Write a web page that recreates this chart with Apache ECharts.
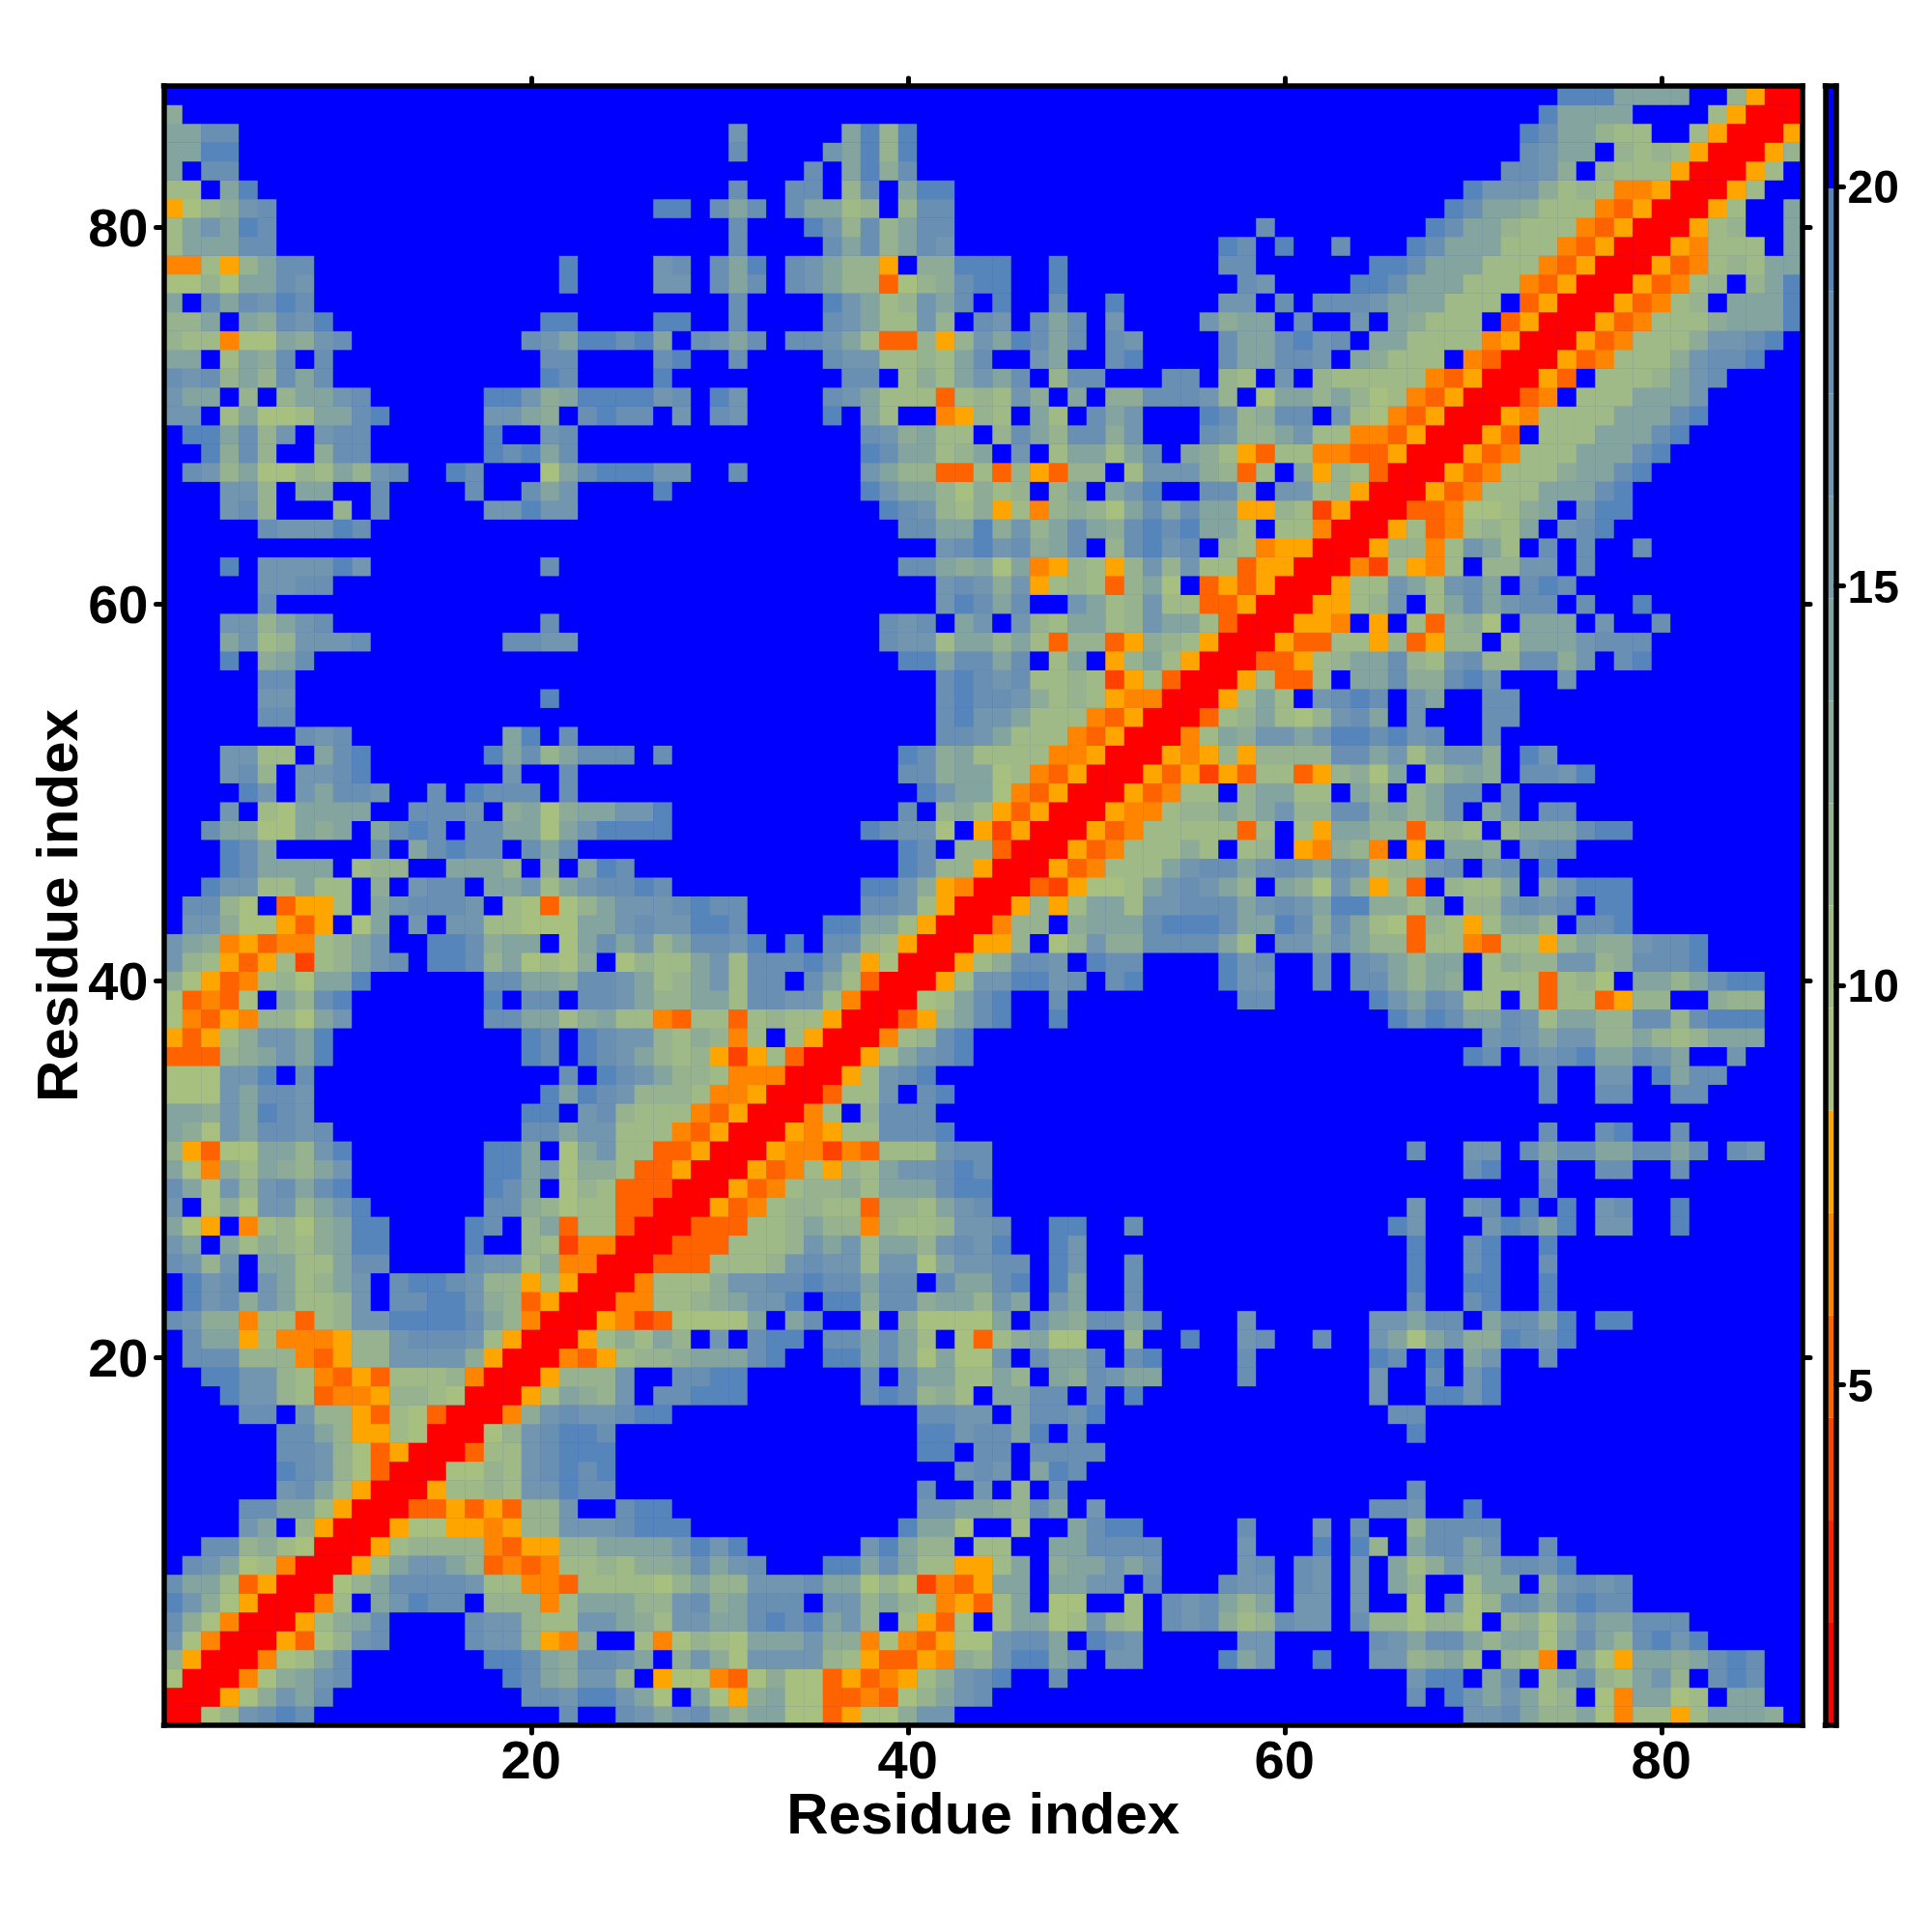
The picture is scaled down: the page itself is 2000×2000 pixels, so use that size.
<!DOCTYPE html>
<html><head><meta charset="utf-8">
<style>html,body{margin:0;padding:0;background:#fff}#c{width:2000px;height:2000px}</style>
<script src="https://cdn.jsdelivr.net/npm/echarts@6/dist/echarts.min.js"></script>
</head><body><div id="c"></div>
<script>
// Contact-distance map. Matrix is symmetric: row j lists columns j..87.
const residues = Array.from({length:87},(_,k)=>String(k+1));
const rows = [
"0*2 6 8 b c d c f*13 c f*2 c b a b c a 8 a a 6 6 3 5 6 6 9 b b f*27 b b c a 8 8 a 6 4 7 7 5 7 a a a 9 f",
"0 0 5 6 9 b a c f*10 c c b d d b a 6 f a 6 5 9 a 6 6 3 3 4 3 6 8 a b c f*22 c f d b a b a 7 8 f 6 4 a a 6 7 f a a f f",
"0 0 4 6 9 a b c f*8 d c a 9 b b 8 f 5 6 6 4 3 6 9 6 6 3 5 3 4 5 7 9 b c d f f c f*18 b d d f a c f 7 a c 8 7 a b 8 f c d c f f",
"0 0 4 6 7 a c f*7 d d c a 9 c c b a f 9 b 9 6 b b b b 8 7 5 3 3 5 4 9 8 b d d a b f b b f*4 d a b f f d f f b b 8 9 a 7 f 8 7 4 f a 6 5 a a 9 a c d c f f",
"0 0 5 3 6 8 b c f*4 c b b 8 5 4 9 f f 7 4 6 8 7 6 a a a b 9 9 4 6 4 3 5 6 6 b c c a f d c b f*5 b b f*5 c b a c c a 8 a a 6 a c a 8 c d b d f*5",
"0 0 5 7 9 a c f*4 c b b 8 7 7 b b a 9 7 b b a a c d c d a b 8 f 7 5 3 6 f 7 a a 6 7 b 8 7 f c b c 9 7 8 c b b f c 8 8 6 8 8 6 f 8 9 6 9 b a a c c c f*6",
"0 0 4 7 f a b d c c f 8 8 8 4 7 a a a 8 8 b c 9 a c c c f b b 8 a 8 7 4 5 3 7 a f 6 6 f f 7 f c b c a 8 a f b b f b f f 6 f b 6 8 c c a c d c c f*9",
"0 0 6 8 a c c c c b 7 7 4 4 3 7 7 7 7 6 8 a 8 8 b b b c a a 6 8 6 2 4 3 5 a a f a a b b f c f f f c b b f c b f b f a 8 f f 7 a a f 9 b c b c f*9",
"0 0 5 7 a b b a 8 3 4 3 4 7 7 8 7 9 9 a c a b c f f f d d a c a 7 7 5 5 7 a f 9 a a b a b f*4 b c f c b f b f a 7 9 b a a c c b d f*12",
"0 0 5 7 8 8 8 8 4 3 5 5 8 8 a a a a b d b d f*6 b d a 8 8 f 7 7 f f a a c c c c f*4 b f*3 d f d 8 f a c c a b f f c f*13",
"0 0 5 6 6 5 5 4 5 8 8 b b b c d d d f*11 d a a 6 f f 7 f f a c d d f*5 c f*3 b f c f f 8 c c c c f*16",
"0 0 3 3 5 3 5 3 8 8 b f f c d d f*13 b b a a 9 8 c a f b f*14 c c b f f d f*17",
"0 0 5 7 7 8 7 b b d c c f*16 c f f b f 8 f c f*18 c f*20",
"0 0 6 6 8 7 b c d c d f*18 b c b f a d c f*38",
"0 0 3 7 7 b c d d d f*16 d d f c c f c c c c f*37",
"0 0 6 8 b c d d c f*16 d d b c c a d f c f*17 d f*20",
"0 0 4 9 b c b b c d d f*13 c c b b f a c c b d f*15 c c f*20",
"0 0 5 7 a 9 8 b f c c d d d f*6 c d c 8 9 7 f a a c c f c f d f*12 b f f d d b d f*16",
"0 0 5 8 8 8 b f f c c d d f*6 c f c a a 7 7 a 8 f a 9 c b a a f*4 c f*6 b f f c f b d f*16",
"0 0 4 3 5 7 8 8 9 a a a c d f f d d a c a 6 a 6 6 b f c a a c f c d f*4 c f*6 d c f d f a b f f c f*13",
"0 0 5 7 9 7 a 8 f b f c d d f c c a c a 7 f 6 3 7 9 a 6 6 f f 8 f f d f f b c f f c f f b a 6 a b 9 9 d c b d f*12",
"0 0 5 4 2 3 6 6 6 6 a f a c f f 7 f 9 6 6 6 6 a f c a 9 c c a c f*4 b f*6 b b a c c f a c c a d f d d f*9",
"0 0 4 4 7 7 8 9 a b b d f d d 9 c c 9 a a 8 b a f b a f f c f*14 c f f c d f f d f*13",
"0 0 4 7 7 7 9 b b c c d c c a c c f c a a c d f d a f f c f*14 d f f d d f f d f*13",
"0 0 3 3 3 7 7 7 8 b c b b 7 b b 6 a b b c c f d b f f c f*14 d f f c d f f c f*13",
"0 0 3 3 3 7 7 7 8 b a b 7 a a 8 b c b d f f d b f*17 d f f c d f f d f*13",
"0 0 3 3 3 7 7 8 a 8 8 4 8 7 7 8 b b c f f d d f f c f*13 d b f*3 b d c a d f b b f f d f*6",
"0 0 5 3 4 7 8 8 7 7 3 8 8 7 a b c f*22 b f f b c f d f d f b c f f d f*6",
"0 0 5 3 4 7 8 8 9 7 a a a c d d f*29 c f*13",
"0 0 5 3 4 7 5 8 7 a b b c d c f*25 c d f f b f f c c f f c f*6",
"0 0 5 4 4 2 4 3 7 7 7 b c c f*22 c f f b b f c a c c a a c c a c f c b f f",
"0 0 5 4 5 7 7 c c c d f*31 c f f c d f f c f*6",
"0 0 4 7 f 8 c c c f*46",
"0 0 3 7 7 b f c d f*31 c f f c c f f c c f*5",
"0 0 5 7 b c d f*32 c f f b b f d a c c f*4",
"0 0 5 7 a b c d f*26 d c f c b c d a a c b a f f b f f f",
"0 0 4 7 8 c d f*27 b c b a b b 8 8 a 8 7 8 a a a f f",
"0 0 3 5 8 a c d f f d f*17 d b d c a a c b 7 a a 8 8 c c 8 c d d d f f",
"0 0 6 7 a c d f f c f*9 c c f*5 d b a c b 7 7 f 7 3 7 7 3 5 8 8 f f 9 8 8 f f",
"0 0 5 7 b b d d b c f c d f*4 d b b f f c f c c a 8 a 9 f 7 7 7 3 7 8 6 f a a 8 a c d d f f",
"0 0 5 7 9 c c b f d c c f*4 d b c f f c f c b a 8 a a f 7 9 8 8 b b 8 9 c c c d f*5",
"0 0 5 5 8 f 6 8 b 9 9 c c c c a 7 f b b a b a 8 8 3 7 7 4 3 7 7 5 8 a 9 9 b c c d f*5",
"0 0 4 8 8 f 9 a a a c d d d c a a d c 9 c a 7 6 3 8 7 5 7 a a 8 f c c d f*9",
"0 0 5 8 5 7 a a 7 b b c c c a b c b a d d 9 9 7 a f 8 8 b c b c f d d f*9",
"0 0 3 2 5 6 6 7 a b c b a 8 f a 9 6 b 9 5 7 3 f 8 7 7 a f a b d d d f*9",
"0 0 5 3 4 7 7 7 a b c c a b c b a c b 7 8 8 b c f b c f d f*13",
"0 0 5 3 4 7 7 7 9 7 f 7 8 f 5 4 9 8 4 f 5 f a a 9 f b c c f*12",
"0 0 5 3 4 7 7 7 7 7 3 7 f 7 5 a a 8 8 3 7 8 7 f 8 a a a c d d f*9",
"0 0 5 4 4 7 8 8 a 8 a b 8 8 c c 9 a 8 a c f a c f c c f*12",
"0 0 5 3 4 7 7 f 8 a a 7 7 f a 8 f 8 a c c f c f*15",
"0 0 5 3 5 2 5 3 7 7 3 5 8 9 6 a f 7 9 a 9 f c c b d f*11",
"0 0 5 4 5 8 5 8 8 8 8 c c a b 7 a b b 9 f d b f*13",
"0 0 4 7 a 9 b b a b d d c d b c f f c f*16",
"0 0 3 7 8 a 7 6 8 b c a f b f f f c c f*15",
"0 0 5 7 a 7 f b c d c f b a f f c c f*15",
"0 0 5 7 3 3 7 f a a c 9 9 c d b f f f b f*12",
"0 0 3 3 5 7 8 a a c 8 7 b c 8 8 c c 9 b f c d f*8",
"0 0 5 3 3 7 7 5 8 3 5 8 8 f 7 a a a b c c c f*8",
"0 0 5 5 4 f 5 f 7 3 8 9 6 f a a a f b f f c f*7",
"0 0 5 5 7 8 b f 7 a c a b c c f c f f d f*8",
"0 0 5 7 7 b a 7 b c a f c d c f*12",
"0 0 4 2 7 5 4 7 f 8 8 b b f c f*11",
"0 0 5 8 8 4 7 b a 7 f c f c f f c f*8",
"0 0 5 7 3 4 7 8 7 a f b c d f*10",
"0 0 3 3 4 6 6 7 9 a f b d d f*9",
"0 0 5 3 4 7 7 7 a a a c d f*9",
"0 0 5 3 4 7 7 7 9 a a c d f*8",
"0 0 5 3 4 7 7 7 a a a c d f*7",
"0 0 5 3 f 7 7 7 a a a c d f*6",
"0 0 5 4 7 7 7 7 a a a c d f*5",
"0 0 3 4 f 7 7 7 a a a b f*5",
"0 0 5 3 f 7 7 7 8 a b c f*4",
"0 0 5 3 4 7 7 7 9 b c c d f f",
"0 0 5 3 4 7 7 7 9 b b c d f",
"0 0 5 3 4 7 7 7 9 a a a d",
"0 0 5 3 4 7 8 f a a a d",
"0 0 5 3 4 7 8 f 8 a d",
"0 0 5 3 4 7 8 7 a a",
"0 0 5 4 7 7 7 f a",
"0 0 5 7 8 f f a",
"0 0 5 7 f f a",
"0 0 5 7 f f",
"0 0 5 7 f",
"0 0 5 8",
"0 0 5",
"0 0",
"0"
];
const levelToBand = {'0':0,'1':1,'2':2,'3':3,'4':4,'5':5,'6':6,'7':7,'8':8,'9':9,'a':10,'b':12,'c':13,'d':14,'f':15};
const bandColors = ['#FF0000','#FF2100','#FF4200','#FF6300','#FF8400','#FFA500','#A8C07F','#9FB987','#96B28F','#8DAB97','#84A49F','#7B9DA7','#7296AF','#6990B3','#5685BC','#0000FF'];
const scaleMin = 0.74, scaleMax = 21.26;
const colorbarTicks = [5,10,15,20];

const step = (scaleMax-scaleMin)/bandColors.length;
const cells = [], problems = [];
rows.forEach((line,r)=>{
  const vals=[];
  line.trim().split(/\s+/).forEach(t=>{
    const [c,n]=t.split('*');
    for(let k=0;k<(n?+n:1);k++) vals.push(levelToBand[c]);
  });
  if(vals.length!==87-r) problems.push((r+1)+':'+vals.length+'/'+(87-r));
  for(let k=0;k<87-r;k++){
    const band = k<vals.length?vals[k]:15;
    const v = scaleMin+(band+0.5)*step;
    const col=r+k;
    cells.push([col,r,v]);
    if(col!==r) cells.push([r,col,v]);
  }
});
if(problems.length) console.error('row length problems '+problems.join(' '));
const pieces = bandColors.map((color,k)=>({min:scaleMin+k*step,max:scaleMin+(k+1)*step,color}));
const tick20 = i=>(i+1)%20===0;
const font = 'Liberation Sans';
const frame = {show:true,onZero:false,lineStyle:{color:'#000',width:5.5,cap:'square'}};
const catAxis = (pos,extra)=>Object.assign({type:'category',data:residues,position:pos,gridIndex:0,z:5,
  axisLine:frame,splitLine:{show:false},
  axisTick:{show:true,alignWithLabel:true,interval:tick20,length:8,lineStyle:{color:'#000',width:5,cap:'round'}},
  axisLabel:{show:false}},extra||{});
const labelStyle = {show:true,interval:tick20,color:'#000',fontFamily:font,fontWeight:'bold',fontSize:56};
const nameStyle = {color:'#000',fontFamily:font,fontWeight:'bold',fontSize:60};
const chart = echarts.init(document.getElementById('c'),null,{renderer:'canvas',width:2000,height:2000});
chart.setOption({
  animation:false,
  backgroundColor:'#fff',
  graphic: problems.length?[{type:'text',left:10,top:10,style:{text:problems.join(' '),fontSize:20,fill:'#f0f'}}]:[],
  grid:[
    {left:169.5,top:89,width:1696.5,height:1697,outerBoundsMode:'none',show:true,backgroundColor:'#0000FF',borderWidth:0},
    {left:1889.5,top:89,width:11,height:1697,outerBoundsMode:'none'}
  ],
  xAxis:[
    catAxis('bottom',{axisLabel:Object.assign({},labelStyle,{margin:12}),name:'Residue index',nameLocation:'middle',nameGap:65,nameMoveOverlap:false,nameTextStyle:nameStyle}),
    catAxis('top'),
    {type:'category',data:['scale'],gridIndex:1,position:'bottom',z:5,axisLine:frame,axisTick:{show:false},axisLabel:{show:false}},
    {type:'category',data:['scale'],gridIndex:1,position:'top',z:5,axisLine:frame,axisTick:{show:false},axisLabel:{show:false}}
  ],
  yAxis:[
    catAxis('left',{axisLabel:Object.assign({},labelStyle,{margin:16,formatter:'{a|{value}}',rich:{a:{padding:[8,0,0,0],color:'#000',fontFamily:font,fontWeight:'bold',fontSize:56}}}),name:'Residue index',nameLocation:'middle',nameGap:76,nameRotate:90,nameMoveOverlap:false,nameTextStyle:nameStyle}),
    catAxis('right'),
    {type:'value',gridIndex:1,position:'left',min:scaleMin,max:scaleMax,z:5,axisLine:frame,splitLine:{show:false},axisTick:{show:false},axisLabel:{show:false}},
    {type:'value',gridIndex:1,position:'right',min:scaleMin,max:scaleMax,z:5,axisLine:frame,splitLine:{show:false},
      axisTick:{show:true,length:8,customValues:colorbarTicks,lineStyle:{color:'#000',width:5,cap:'round'}},
      axisLabel:{show:true,customValues:colorbarTicks,margin:12,formatter:'{a|{value}}',rich:{a:{padding:[8,0,0,0],color:'#000',fontFamily:font,fontWeight:'bold',fontSize:48}},color:'#000',fontFamily:font,fontWeight:'bold',fontSize:48}}
  ],
  visualMap:{type:'piecewise',show:false,seriesIndex:0,dimension:2,pieces},
  series:[
    {type:'heatmap',xAxisIndex:0,yAxisIndex:0,data:cells,progressive:0,itemStyle:{borderWidth:0},emphasis:{disabled:true}},
  ].concat(bandColors.map((color,k)=>({
    type:'bar',xAxisIndex:2,yAxisIndex:2,stack:'scale',barWidth:'100%',silent:true,
    itemStyle:{color},data:[k===0?scaleMin+step:step]
  })))
});
</script></body></html>
